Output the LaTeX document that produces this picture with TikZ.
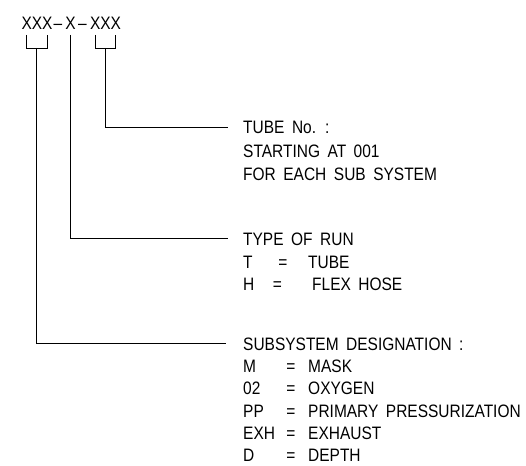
\documentclass[tikz,border=0pt]{standalone}
\usepackage{fontspec}
\setmainfont[FakeStretch=0.86,WordSpace=1.75]{Liberation Sans}
\begin{document}
\begin{tikzpicture}[x=1pt,y=-1pt,
  txt/.style={inner sep=0pt, font=\fontsize{18}{22}\selectfont, text height=12.9pt, text depth=0pt},
  lbl/.style={txt, anchor=base west},
  code/.style={txt, anchor=base},
  ln/.style={line width=0.9pt, black}]
\useasboundingbox (0,0) rectangle (526,465);
% code string
\node[code] (c1) at (37,30) {XXX};
\node[code] (d1) at (58,30) {–};
\node[code] (c2) at (70.5,30) {X};
\node[code] (d2) at (82.5,30) {–};
\node[code] (c3) at (105.5,30) {XXX};
% brackets
\draw[ln] (26,35) -- (26,48) -- (47,48) -- (47,35);
\draw[ln] (95,35) -- (95,48) -- (115,48) -- (115,35);
\coordinate (b1) at (36.5,48);
\coordinate (b2) at (70.5,35);
\coordinate (b3) at (105,48);
% tube block
\node[lbl] (tube) at (243,134) {TUBE No. :};
\node[lbl] (tube2) at (243,157) {STARTING AT 001};
\node[lbl] (tube3) at (243,180) {FOR EACH SUB SYSTEM};
% type of run block
\node[lbl] (type) at (243,245) {TYPE OF RUN};
\node[lbl] (tk1) at (243,268) {T};
\node[code] (te1) at (283,268) {=};
\node[lbl] (tv1) at (308,268) {TUBE};
\node[lbl] (tk2) at (243,290) {H};
\node[code] (te2) at (277.5,290) {=};
\node[lbl] (tv2) at (312,290) {FLEX HOSE};
% subsystem block
\node[lbl] (sub) at (243,350) {SUBSYSTEM DESIGNATION :};
\node[lbl] (sk1) at (243,372.5) {M};
\node[code] (se1) at (291,372.5) {=};
\node[lbl] (sv1) at (308,372.5) {MASK};
\node[lbl] (sk2) at (243,394.5) {02};
\node[code] (se2) at (291,394.5) {=};
\node[lbl] (sv2) at (308,394.5) {OXYGEN};
\node[lbl] (sk3) at (243,417) {PP};
\node[code] (se3) at (291,417) {=};
\node[lbl] (sv3) at (308,417) {PRIMARY PRESSURIZATION};
\node[lbl] (sk4) at (243,439) {EXH};
\node[code] (se4) at (291,439) {=};
\node[lbl] (sv4) at (308,439) {EXHAUST};
\node[lbl] (sk5) at (243,461) {D};
\node[code] (se5) at (291,461) {=};
\node[lbl] (sv5) at (308,461) {DEPTH};
% connectors
\draw[ln] (b3) |- ([xshift=-15pt]tube.west);
\draw[ln] (b2) |- ([xshift=-15pt]type.west);
\draw[ln] (b1) |- ([xshift=-17pt]sub.west);
\end{tikzpicture}
\end{document}
